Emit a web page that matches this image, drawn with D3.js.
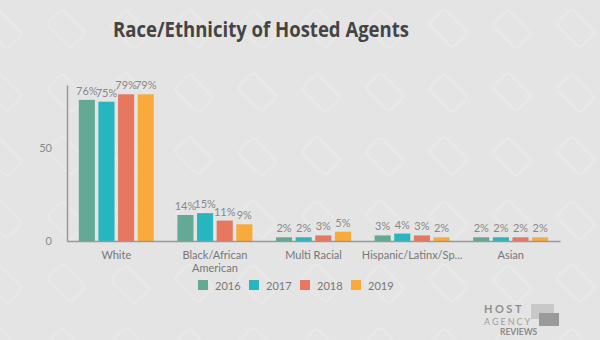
<!DOCTYPE html>
<html>
<head>
<meta charset="utf-8">
<script src="https://cdn.jsdelivr.net/npm/d3@7"></script>
<style>
  body { margin: 0; background: #e4e4e4; }
  svg { display: block; font-family: Lato, "Open Sans", sans-serif; }
</style>
</head>
<body>
<svg width="600" height="340"></svg>
<script>
const categories = ["White", "Black/African American", "Multi Racial", "Hispanic/Latinx/Sp...", "Asian"];
const years = ["2016", "2017", "2018", "2019"];
const values2016 = [76, 14, 2, 3, 2];
const values2017 = [75, 15, 2, 4, 2];
const values2018 = [79, 11, 3, 3, 2];
const values2019 = [79, 9, 5, 2, 2];
const yTicks = [0, 50];
const colors = ["#63a993", "#27b6c0", "#e7775f", "#f8aa3c"];

const series = [values2016, values2017, values2018, values2019];
const data = categories.map((c, i) => ({ cat: c, vals: series.map(s => s[i]) }));

const margin = { top: 85, right: 40, bottom: 99, left: 67 },
      width = 600 - margin.left - margin.right,
      height = 340 - margin.top - margin.bottom;
const groupW = 75;

const svg = d3.select("svg");

// faint background pattern
const defs = svg.append("defs");
const pat = defs.append("pattern")
    .attr("id", "bg")
    .attr("width", 90).attr("height", 90)
    .attr("patternUnits", "userSpaceOnUse")
    .attr("patternTransform", "rotate(45)");
pat.append("rect").attr("x", 6).attr("y", 8).attr("width", 34).attr("height", 22).attr("rx", 3)
    .attr("fill", "none").attr("stroke", "#ececec").attr("stroke-width", 1);
pat.append("rect").attr("x", 50).attr("y", 52).attr("width", 34).attr("height", 22).attr("rx", 3)
    .attr("fill", "none").attr("stroke", "#ececec").attr("stroke-width", 1);
svg.append("rect").attr("width", 600).attr("height", 340).attr("fill", "#e4e4e4");
svg.append("rect").attr("width", 600).attr("height", 340).attr("fill", "url(#bg)");

svg.append("text")
    .attr("x", 261).attr("y", 37)
    .attr("text-anchor", "middle")
    .attr("font-family", "'Open Sans', sans-serif")
    .attr("font-weight", "bold")
    .attr("font-size", 22)
    .attr("textLength", 296)
    .attr("lengthAdjust", "spacingAndGlyphs")
    .attr("fill", "#444")
    .text("Race/Ethnicity of Hosted Agents");

const g = svg.append("g")
    .attr("transform", `translate(${margin.left},${margin.top})`);

const x = d3.scaleBand()
    .domain(categories)
    .range([0, width]);

const xi = d3.scaleBand()
    .domain(years)
    .range([0, groupW])
    .paddingInner(0.18);

const y = d3.scaleLinear()
    .domain([0, 84])
    .range([height, 0]);

const groups = g.selectAll(".grp")
    .data(data)
    .enter().append("g")
    .attr("transform", d => `translate(${x(d.cat) + (x.bandwidth() - groupW) / 2},0)`);

groups.selectAll("rect")
    .data(d => d.vals)
    .enter().append("rect")
    .attr("x", (v, i) => xi(years[i]))
    .attr("y", v => y(v))
    .attr("width", xi.bandwidth())
    .attr("height", v => height - y(v))
    .attr("fill", (v, i) => colors[i]);

groups.selectAll(".lbl")
    .data(d => d.vals)
    .enter().append("text")
    .attr("x", (v, i) => xi(years[i]) + xi.bandwidth() / 2)
    .attr("y", v => y(v) - 5)
    .attr("text-anchor", "middle")
    .attr("font-size", 11)
    .attr("fill", "#888")
    .text(v => v + "%");

// axes
const yAxis = g.append("g")
    .call(d3.axisLeft(y).tickValues(yTicks).tickSize(0).tickPadding(15));
yAxis.select(".domain").attr("stroke", "#999").attr("stroke-width", 1.5);
yAxis.selectAll("text").attr("font-size", 11).attr("fill", "#888").attr("font-family", "Lato, sans-serif");

const xAxis = g.append("g")
    .attr("transform", `translate(0,${height})`)
    .call(d3.axisBottom(x).tickSize(0).tickPadding(10));
xAxis.select(".domain").attr("stroke", "#999").attr("stroke-width", 1.5);
xAxis.selectAll("text")
    .attr("font-size", 11).attr("fill", "#777").attr("font-family", "Lato, sans-serif")
    .each(function(d) {
        const t = d3.select(this);
        if (d === "Black/African American") {
            t.text(null);
            t.append("tspan").attr("x", 0).attr("dy", "0.71em").text("Black/African");
            t.append("tspan").attr("x", 0).attr("dy", "1.2em").text("American");
            t.attr("dy", null);
        }
    });

// legend
const legend = svg.append("g").attr("transform", "translate(198,280)");
const li = legend.selectAll("g")
    .data(years)
    .enter().append("g")
    .attr("transform", (d, i) => `translate(${i * 51},0)`);
li.append("rect").attr("width", 10).attr("height", 10).attr("fill", (d, i) => colors[i]);
li.append("text").attr("x", 17).attr("y", 9.5)
    .attr("font-size", 11).attr("fill", "#777").text(d => d);

// logo
const logo = svg.append("g").attr("transform", "translate(484,303)");
logo.append("rect").attr("x", 47).attr("y", 1).attr("width", 23).attr("height", 15).attr("fill", "#c8c8c8");
logo.append("rect").attr("x", 55).attr("y", 10).attr("width", 20).attr("height", 13).attr("fill", "#9a9a9a");
logo.append("text").attr("x", 0).attr("y", 10).attr("font-size", 11).attr("font-weight", "bold")
    .attr("letter-spacing", 2.5).attr("fill", "#8f8f8f").text("HOST");
logo.append("text").attr("x", 0).attr("y", 22).attr("font-size", 9)
    .attr("letter-spacing", 2).attr("fill", "#a0a0a0").text("AGENCY");
logo.append("text").attr("x", 16).attr("y", 32).attr("font-size", 8.5).attr("font-weight", "bold")
    .attr("fill", "#8a8a8a").text("REVIEWS");
</script>
</body>
</html>
